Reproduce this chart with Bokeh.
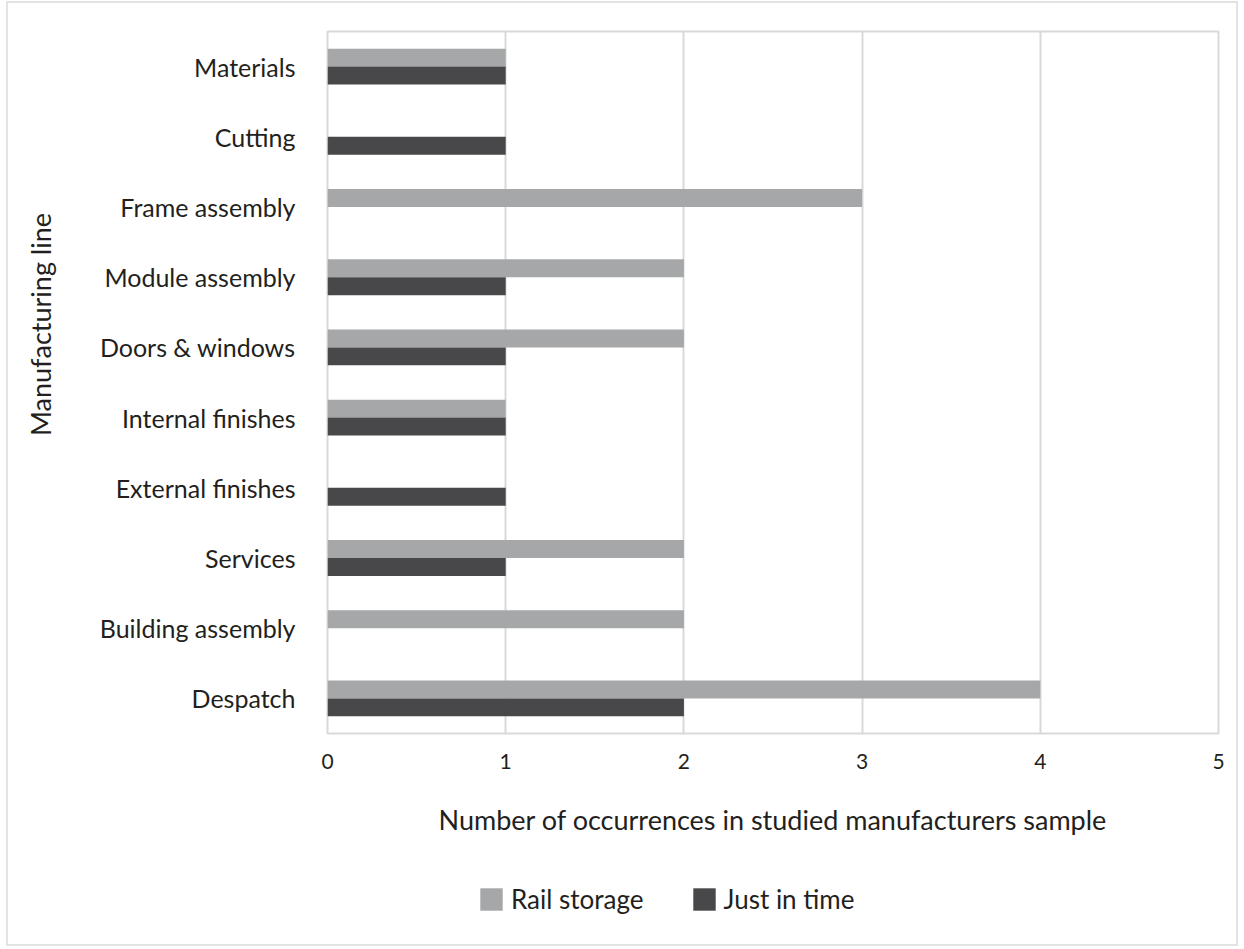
import math
from bokeh.plotting import figure
from bokeh.models import FactorRange, Legend, LegendItem
from bokeh.layouts import column, row
from bokeh.core.properties import value
from bokeh.transform import dodge
from bokeh.embed import file_html
from bokeh.resources import INLINE

categories = ["Materials", "Cutting", "Frame assembly", "Module assembly", "Doors & windows",
              "Internal finishes", "External finishes", "Services", "Building assembly", "Despatch"]
rail_storage = [1, 0, 3, 2, 2, 1, 0, 2, 2, 4]
just_in_time = [1, 1, 0, 1, 1, 1, 1, 1, 0, 2]
x_ticks = [0, 1, 2, 3, 4, 5]
series_names = ["Rail storage", "Just in time"]
y_title = "Manufacturing line"
x_title = "Number of occurrences in studied manufacturers sample"

FONT = "Lato"
TXT = "#231f20"
GRAY = "#a5a7a9"
DARK = "#48484a"
GRID = "#d9d9d9"

TOP_H = 860
TITLE_W = 70

# ---- narrow figure carrying the vertical axis title
pt = figure(width=TITLE_W, height=TOP_H, x_range=(0, TITLE_W), y_range=(0, TOP_H),
            output_backend="svg", toolbar_location=None,
            x_axis_location=None, y_axis_location=None,
            min_border_left=0, min_border_right=0, min_border_top=0, min_border_bottom=0)
pt.outline_line_color = None
pt.grid.grid_line_color = None
pt.text(x=[32], y=[TOP_H - 359], text=[y_title], angle=math.pi / 2,
        text_align="center", text_baseline="middle",
        text_font=value(FONT), text_font_size="27px", text_color=TXT)

# ---- main chart
factors = list(reversed(categories))
data = dict(cat=categories, rail=rail_storage, jit=just_in_time)

p = figure(width=1228 - TITLE_W, height=TOP_H, y_range=FactorRange(factors=factors), x_range=(0, 5),
           output_backend="svg", toolbar_location=None,
           min_border_left=319 - TITLE_W, min_border_right=18, min_border_top=28,
           min_border_bottom=TOP_H + 3 - 733)

bh = 0.256
p.hbar(y=dodge("cat", bh / 2, range=p.y_range), right="rail", left=0, height=bh,
       source=data, fill_color=GRAY, line_color=None)
p.hbar(y=dodge("cat", -bh / 2, range=p.y_range), right="jit", left=0, height=bh,
       source=data, fill_color=DARK, line_color=None)

p.outline_line_color = GRID
p.outline_line_width = 2
p.ygrid.grid_line_color = None
p.xgrid.grid_line_color = GRID
p.xgrid.grid_line_width = 2
p.xaxis.ticker = x_ticks

for ax in (p.xaxis[0], p.yaxis[0]):
    ax.axis_line_color = None
    ax.major_tick_line_color = None
    ax.minor_tick_line_color = None
    ax.major_tick_out = 0
    ax.major_tick_in = 0
    ax.major_label_text_font = FONT
    ax.major_label_text_color = TXT
    ax.axis_label_text_font = FONT
    ax.axis_label_text_color = TXT
    ax.axis_label_text_font_style = "normal"

p.xaxis.major_label_text_font_size = "21px"
p.xaxis.major_label_standoff = 20
p.xaxis.axis_label = x_title
p.xaxis.axis_label_text_font_size = "27px"
p.xaxis.axis_label_standoff = 31

p.yaxis.major_label_text_font_size = "25px"
p.yaxis.major_label_standoff = 32

# ---- legend strip (swatch renderers sit outside the visible range)
LEG_H = 81
pl = figure(width=1228, height=LEG_H, x_range=(0, 1), y_range=(0, 1),
            output_backend="svg", toolbar_location=None,
            x_axis_location=None, y_axis_location=None,
            min_border_left=0, min_border_right=0, min_border_top=0, min_border_bottom=0)
pl.outline_line_color = None
pl.grid.grid_line_color = None
lr1 = pl.hbar(y=[-5], right=[-4], left=-5, height=0.1, fill_color=GRAY, line_color=None)
lr2 = pl.hbar(y=[-5], right=[-4], left=-5, height=0.1, fill_color=DARK, line_color=None)
legend = Legend(items=[LegendItem(label=series_names[0], renderers=[lr1]),
                       LegendItem(label=series_names[1], renderers=[lr2])],
                orientation="horizontal", location=(469, 29),
                label_text_font=FONT, label_text_font_size="26px", label_text_color=TXT,
                glyph_width=28, glyph_height=28, label_standoff=6, spacing=46,
                padding=0, margin=0, border_line_color=None, background_fill_alpha=0)
pl.add_layout(legend, "center")

page = column(row(pt, p, spacing=0), pl, spacing=0)
page.styles = {"margin": "3px 0 0 8px", "outline": "2px solid #e3e3e3"}

open("out.html", "w").write(file_html(page, INLINE))
